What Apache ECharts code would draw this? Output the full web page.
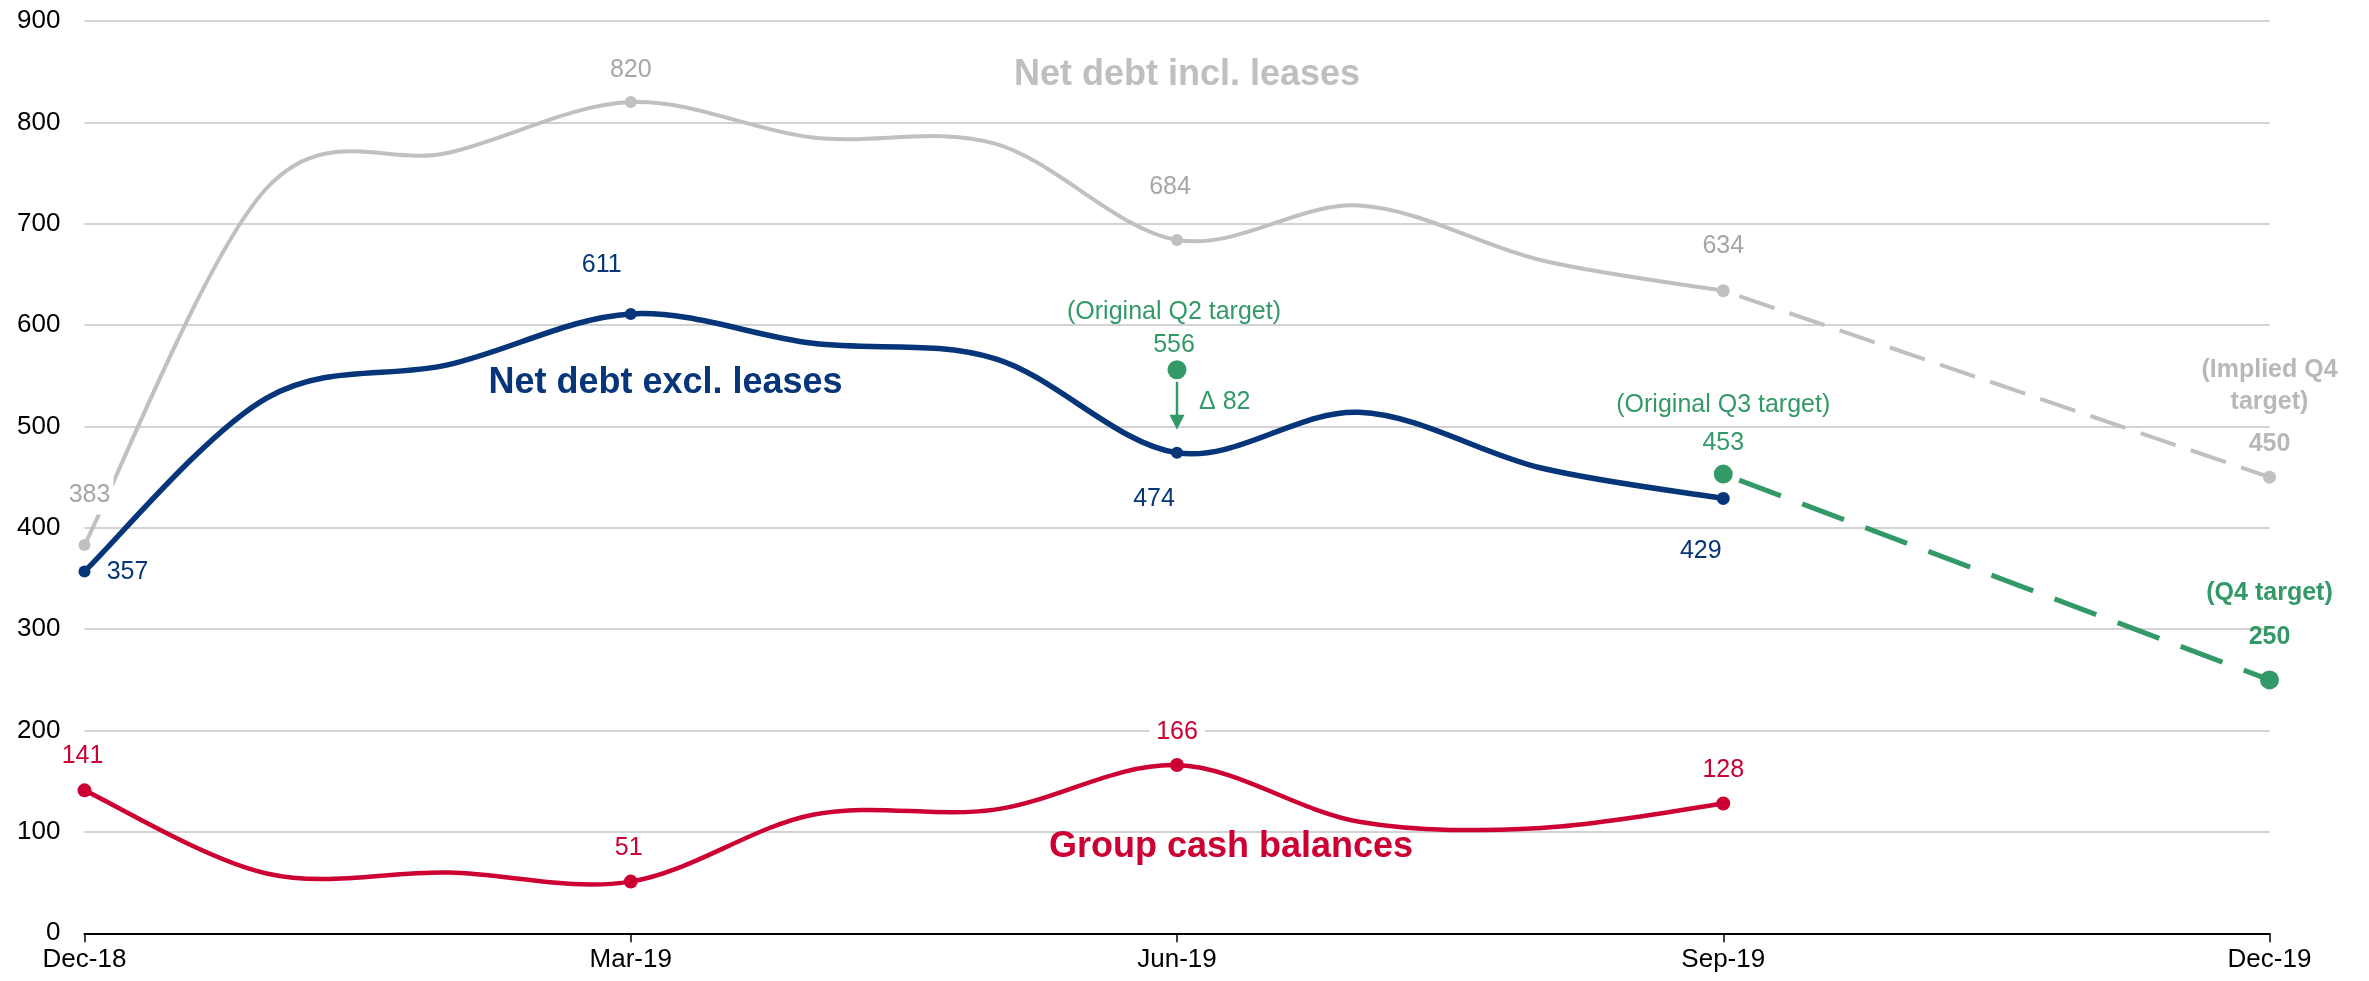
<!DOCTYPE html>
<html>
<head>
<meta charset="utf-8">
<script src="https://cdn.jsdelivr.net/npm/echarts@6/dist/echarts.min.js"></script>
<style>
html,body{margin:0;padding:0;background:#fff;}
#c{width:2369px;height:981px;}
</style>
</head>
<body>
<div id="c"></div>
<script>
// ---------------- DATA ----------------
const months = ['Dec-18','Jan-19','Feb-19','Mar-19','Apr-19','May-19','Jun-19','Jul-19','Aug-19','Sep-19','Oct-19','Nov-19','Dec-19'];
const tickLabels = ['Dec-18','Mar-19','Jun-19','Sep-19','Dec-19'];
const netDebtInclLeases = [383, 735, 770, 820, 785, 779, 684, 718, 664, 634, null, null, null];
const impliedQ4Path     = [null, null, null, null, null, null, null, null, null, 634, null, null, 450];
const netDebtExclLeases = [357, 528, 561, 611, 582, 567, 474, 514, 459, 429, null, null, null];
const groupCashBalances = [141, 59, 60, 51, 117, 122, 166, 110, 104, 128, null, null, null];
const originalQ2Target  = [null, null, null, null, null, null, 556, null, null, null, null, null, null];
const targetPath        = [null, null, null, null, null, null, null, null, null, 453, null, null, 250];
const seriesNames = ['Net debt incl. leases', 'Net debt excl. leases', 'Group cash balances'];

// ---------------- STYLE ----------------
const FONT = "'Liberation Sans', Arial, Helvetica, sans-serif";
const C = {
  grey: '#c0c0c0', greyText: '#a6a6a6', greyBold: '#b8b8b8',
  navy: '#063679', red: '#cc0033', green: '#339966', grid: '#c4c4c4'
};

function pointData(values, marks) {
  return values.map((v, i) => {
    if (v === null) return '-';
    const m = marks[i];
    if (!m) return { value: v, symbol: 'none', symbolSize: 0 };
    const item = { value: v, symbol: 'circle', symbolSize: m.size };
    if (m.label) {
      item.label = Object.assign({
        show: true, position: 'inside', fontSize: 25, fontFamily: FONT,
        textBorderWidth: 0, textShadowBlur: 0
      }, m.label);
    }
    return item;
  });
}

const greyLbl = (o, extra) => Object.assign({ offset: o, color: C.greyText }, extra || {});
const greyMarks = {
  0: { size: 12, label: greyLbl([5, -50], { backgroundColor: '#fff', padding: [7, 3] }) },
  3: { size: 12, label: greyLbl([0, -32]) },
  6: { size: 12, label: greyLbl([-7, -53]) },
  9: { size: 13, label: greyLbl([0, -45]) }
};
const impliedMarks = {
  12: { size: 13, label: {
    offset: [0, -65],
    formatter: p => '{a|(Implied Q4}\n{a|target)}\n{b|' + p.value + '}',
    rich: {
      a: { fontSize: 25, fontWeight: 'bold', color: C.greyBold, lineHeight: 32, fontFamily: FONT },
      b: { fontSize: 25, fontWeight: 'bold', color: C.greyBold, lineHeight: 52, fontFamily: FONT }
    }
  } }
};
const navyLbl = o => ({ offset: o, color: C.navy });
const exclMarks = {
  0: { size: 12, label: navyLbl([43, 1]) },
  3: { size: 12, label: navyLbl([-29, -49]) },
  6: { size: 12, label: navyLbl([-23, 46]) },
  9: { size: 13, label: navyLbl([-22.5, 53]) }
};
const redLbl = (o, bg) => Object.assign({ offset: o, color: C.red }, bg ? { backgroundColor: '#fff', padding: [2, 7] } : {});
const cashMarks = {
  0: { size: 14, label: redLbl([-2, -34]) },
  3: { size: 14, label: redLbl([-2, -33], true) },
  6: { size: 14, label: redLbl([0, -33], true) },
  9: { size: 14, label: redLbl([0, -33]) }
};
const q2Marks = {
  6: { size: 19, label: {
    offset: [-3, -41],
    formatter: p => '{a|(Original Q2 target)}\n{a|' + p.value + '}',
    rich: { a: { fontSize: 25, color: C.green, lineHeight: 33, fontFamily: FONT } }
  } }
};
const targetMarks = {
  9: { size: 19, label: {
    offset: [0, -50],
    formatter: p => '{a|(Original Q3 target)}\n{a|' + p.value + '}',
    rich: { a: { fontSize: 25, color: C.green, lineHeight: 38, fontFamily: FONT } }
  } },
  12: { size: 19, label: {
    offset: [0, -65],
    formatter: p => '{a|(Q4 target)}\n{a|' + p.value + '}',
    rich: { a: { fontSize: 25, fontWeight: 'bold', color: C.green, lineHeight: 44, fontFamily: FONT } }
  } }
};

// Smoothed (Catmull-Rom, spreadsheet style) line through the data points,
// positioned by the chart's own axes via api.coord.
function smoothLine(name, values, color, width) {
  return {
    name: name, type: 'custom', coordinateSystem: 'cartesian2d', z: 1, silent: true,
    data: [[0, values[0]]],
    renderItem: function (params, api) {
      const pts = [];
      values.forEach((v, i) => { if (v !== null) pts.push(api.coord([i, v])); });
      let d = 'M' + pts[0][0] + ' ' + pts[0][1];
      for (let i = 0; i < pts.length - 1; i++) {
        const p0 = pts[i - 1] || pts[i], p1 = pts[i], p2 = pts[i + 1], p3 = pts[i + 2] || pts[i + 1];
        const c1x = p1[0] + (p2[0] - p0[0]) / 6, c1y = p1[1] + (p2[1] - p0[1]) / 6;
        const c2x = p2[0] - (p3[0] - p1[0]) / 6, c2y = p2[1] - (p3[1] - p1[1]) / 6;
        d += ' C' + c1x + ' ' + c1y + ' ' + c2x + ' ' + c2y + ' ' + p2[0] + ' ' + p2[1];
      }
      return {
        type: 'path', shape: { pathData: d },
        style: { fill: 'none', stroke: color, lineWidth: width, lineJoin: 'round', lineCap: 'round' }
      };
    }
  };
}

function markerSeries(name, values, marks, color) {
  return {
    name: name, type: 'line', z: 2, silent: true,
    data: pointData(values, marks),
    lineStyle: { width: 0, opacity: 0 }, itemStyle: { color: color },
    emphasis: { disabled: true }
  };
}

const chart = echarts.init(document.getElementById('c'), null, { renderer: 'canvas' });
const quarterTick = (idx, val) => tickLabels.indexOf(val) >= 0;

const option = {
  animation: false,
  backgroundColor: '#fff',
  textStyle: { fontFamily: FONT },
  grid: { left: 84.5, right: 99.5, top: 21, bottom: 47.7, containLabel: false, outerBoundsMode: 'none' },
  xAxis: {
    type: 'category',
    data: months,
    boundaryGap: false,
    axisLine: { show: true, lineStyle: { color: '#000', width: 2 } },
    axisTick: { show: true, interval: quarterTick, length: 9, lineStyle: { color: '#000', width: 1.5 } },
    axisLabel: { interval: quarterTick, color: '#000', fontSize: 26, margin: 14, fontFamily: FONT },
    splitLine: { show: false }
  },
  yAxis: {
    type: 'value',
    min: 0, max: 900, interval: 100,
    axisLine: { show: false },
    axisTick: { show: false },
    axisLabel: { color: '#000', fontSize: 26, margin: 24, fontFamily: FONT },
    splitLine: { show: true, lineStyle: { color: C.grid, width: 1.5 } }
  },
  series: [
    smoothLine(seriesNames[0], netDebtInclLeases, C.grey, 4),
    {
      name: seriesNames[0] + ' (implied)', type: 'line', connectNulls: true, z: 1,
      data: pointData(impliedQ4Path, impliedMarks),
      lineStyle: { color: C.grey, width: 4, type: [37, 16], dashOffset: 36 }, itemStyle: { color: C.grey },
      emphasis: { disabled: true }, silent: true
    },
    smoothLine(seriesNames[1], netDebtExclLeases, C.navy, 5.5),
    smoothLine(seriesNames[2], groupCashBalances, C.red, 4.5),
    {
      name: 'Target path', type: 'line', connectNulls: true, z: 1,
      data: pointData(targetPath, targetMarks),
      lineStyle: { color: C.green, width: 5, type: [44.6, 22.8], dashOffset: 50.4 }, itemStyle: { color: C.green },
      emphasis: { disabled: true }, silent: true
    },
    markerSeries(seriesNames[0] + ' points', netDebtInclLeases, greyMarks, C.grey),
    markerSeries(seriesNames[1] + ' points', netDebtExclLeases, exclMarks, C.navy),
    markerSeries(seriesNames[2] + ' points', groupCashBalances, cashMarks, C.red),
    markerSeries('Original Q2 target', originalQ2Target, q2Marks, C.green)
  ]
};
chart.setOption(option);

// Annotations positioned from data through the chart's own scales
const q2Idx = originalQ2Target.findIndex(v => v !== null);
const pTop = chart.convertToPixel({ gridIndex: 0 }, [q2Idx, originalQ2Target[q2Idx]]);
const pBot = chart.convertToPixel({ gridIndex: 0 }, [q2Idx, netDebtExclLeases[q2Idx]]);
const ax = pTop[0];
const tipY = pBot[1] - 23;
const baseY = tipY - 15;
const delta = originalQ2Target[q2Idx] - netDebtExclLeases[q2Idx];

function label(id, text, x, y, size, color, bold, align) {
  return {
    type: 'text', id: id, x: x, y: y, silent: true, z: 100,
    style: {
      text: text, fill: color, fontSize: size, fontFamily: FONT,
      fontWeight: bold ? 'bold' : 'normal',
      align: align || 'center', textAlign: align || 'center',
      verticalAlign: 'middle', textVerticalAlign: 'middle'
    }
  };
}

chart.setOption({
  graphic: [
    label('nIncl', seriesNames[0], 1187, 75, 36, '#bfbfbf', true),
    label('nExcl', seriesNames[1], 665.5, 383, 36, C.navy, true),
    label('nCash', seriesNames[2], 1231, 847, 36, C.red, true),
    {
      type: 'line', id: 'arrowLine', silent: true, z: 100,
      shape: { x1: ax, y1: pTop[1] + 12, x2: ax, y2: baseY + 2 },
      style: { stroke: C.green, lineWidth: 2.5 }
    },
    {
      type: 'polygon', id: 'arrowHead', silent: true, z: 100,
      shape: { points: [[ax - 7.5, baseY], [ax + 7.5, baseY], [ax, tipY]] },
      style: { fill: C.green }
    },
    label('delta', '\u0394 ' + delta, ax + 22, (pTop[1] + pBot[1]) / 2 - 9, 25, C.green, false, 'left')
  ]
});
</script>
</body>
</html>
